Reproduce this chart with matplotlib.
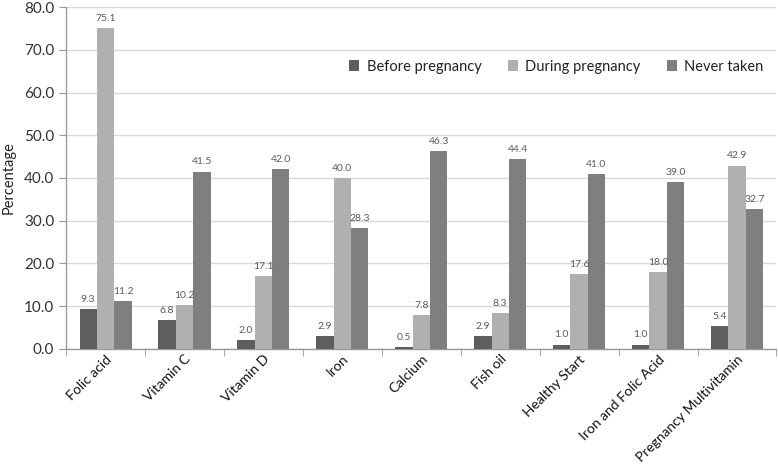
import matplotlib
matplotlib.use("Agg")
import matplotlib.pyplot as plt
import numpy as np

categories = ["Folic acid", "Vitamin C", "Vitamin D", "Iron", "Calcium", "Fish oil",
              "Healthy Start", "Iron and Folic Acid", "Pregnancy Multivitamin"]
before = [9.3, 6.8, 2.0, 2.9, 0.5, 2.9, 1.0, 1.0, 5.4]
during = [75.1, 10.2, 17.1, 40.0, 7.8, 8.3, 17.6, 18.0, 42.9]
never = [11.2, 41.5, 42.0, 28.3, 46.3, 44.4, 41.0, 39.0, 32.7]
series_names = ["Before pregnancy", "During pregnancy", "Never taken"]
colors = ["#5e5e5e", "#b0b0b0", "#7f7f7f"]
yticks = [0, 10, 20, 30, 40, 50, 60, 70, 80]

plt.rcParams['font.family'] = ['Lato', 'DejaVu Sans']

fig = plt.figure(figsize=(7.78, 4.72), dpi=100)
ax = fig.add_axes([0.085, 0.261, 0.913, 0.724])

x = np.arange(len(categories))
w = 0.22
for i, (vals, name, c) in enumerate(zip([before, during, never], series_names, colors)):
    pos = x + (i - 1) * w
    ax.bar(pos, vals, width=w, color=c, label=name, zorder=3)
    for xp, v in zip(pos, vals):
        ax.text(xp, v + 1.2, f"{v:.1f}", ha="center", va="bottom", fontsize=7.5,
                color="#5a5a5a", zorder=4)

ax.set_xlim(-0.5, len(categories) - 0.5)
ax.set_ylim(0, 80)
ax.set_yticks(yticks)
ax.set_yticklabels([f"{v:.1f}" for v in yticks], fontsize=11, color="#333333")
ax.set_xticks(x)
ax.set_xticklabels(categories, rotation=45, ha="right", rotation_mode="anchor",
                   fontsize=10, color="#111111")
ax.set_xticks(np.arange(-0.5, len(categories) + 0.5, 1), minor=True)
ax.tick_params(axis="x", which="major", length=0, pad=3)
ax.tick_params(axis="x", which="minor", length=5, color="#999999", direction="out")
ax.tick_params(axis="y", length=5, color="#999999", direction="out")
ax.set_ylabel("Percentage", fontsize=10.5, color="#222222", labelpad=6)

ax.grid(axis="y", color="#d9d9d9", linewidth=1, zorder=0)
for s in ["top", "right"]:
    ax.spines[s].set_visible(False)
for s in ["left", "bottom"]:
    ax.spines[s].set_color("#999999")
    ax.spines[s].set_linewidth(1)

ax.legend(loc="upper right", bbox_to_anchor=(1.0, 0.885), ncol=3, frameon=False,
          fontsize=10.5, handlelength=0.7, handleheight=0.7, columnspacing=1.8,
          handletextpad=0.5, labelcolor="#222222")

fig.savefig("out.png", dpi=100)
